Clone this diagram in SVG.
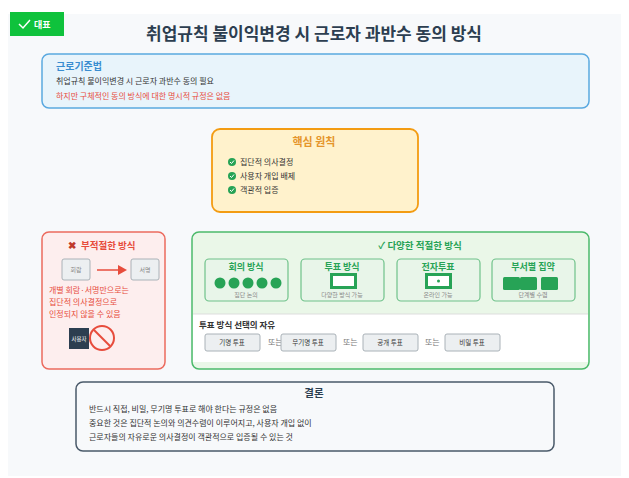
<svg xmlns="http://www.w3.org/2000/svg" width="629" height="478" viewBox="0 0 629 478">
<style>
text{font-family:"Noto Sans CJK KR","Noto Sans",sans-serif;}
.s{font-size:8px;fill:#333}
.t{font-size:6px;fill:#888}
.sb{fill:#e8f5e9;stroke:#6fc28a;stroke-width:1.2}
.btn{fill:#eceff1;stroke:#aab2b8;stroke-width:1}
.bt{font-size:6.5px;fill:#333;text-anchor:middle}
.or{font-size:8px;fill:#777}
.gh{font-size:9px;font-weight:bold;fill:#27a356;text-anchor:middle}
</style>
<rect width="629" height="478" fill="#fff"/>
<rect x="8" y="14" width="613" height="462" fill="#f7f9fb"/>
<g id="badge"><rect x="10" y="12" width="54" height="24" fill="#0fc23c"/><path d="M19 24 l4 4 l7 -8" fill="none" stroke="#fff" stroke-width="1.5"/><text x="34" y="28" font-size="9" fill="#fff" font-weight="bold">대표</text></g>
<text x="314" y="40" font-size="17" font-weight="bold" fill="#2c3e50" text-anchor="middle">취업규칙 불이익변경 시 근로자 과반수 동의 방식</text>
<g id="law"><rect x="42" y="54" width="547" height="54" rx="7" fill="#e8f4fb" stroke="#5aa9e0" stroke-width="1.5"/>
<text x="56" y="70" font-size="10" font-weight="bold" fill="#3a8dd0">근로기준법</text>
<text x="56" y="84" class="s">취업규칙 불이익변경 시 근로자 과반수 동의 필요</text>
<text x="56" y="99" font-size="8" fill="#e74c3c">하지만 구체적인 동의 방식에 대한 명시적 규정은 없음</text></g>
<g id="core"><rect x="212" y="129" width="206" height="83" rx="8" fill="#fff2cc" stroke="#f39c12" stroke-width="1.8"/>
<text x="314" y="146" font-size="11" font-weight="bold" fill="#e5952a" text-anchor="middle">핵심 원칙</text>
<g fill="#27a356"><circle cx="232" cy="162" r="4"/><circle cx="232" cy="176" r="4"/><circle cx="232" cy="190" r="4"/></g>
<g stroke="#fff" fill="none" stroke-width="1"><path d="M230 162l1.5 1.5 2.5-3"/><path d="M230 176l1.5 1.5 2.5-3"/><path d="M230 190l1.5 1.5 2.5-3"/></g>
<text x="240" y="165" class="s">집단적 의사결정</text><text x="240" y="179" class="s">사용자 개입 배제</text><text x="240" y="193" class="s">객관적 입증</text></g>
<g id="bad"><rect x="42" y="232" width="123" height="137" rx="7" fill="#fdeeee" stroke="#ec6b5e" stroke-width="1.5"/>
<text x="68" y="249" font-size="10" fill="#c0392b" font-weight="bold">✖</text>
<text x="81" y="249" font-size="9.5" font-weight="bold" fill="#e74c3c">부적절한 방식</text>
<rect x="62" y="259" width="28" height="21" rx="2" class="btn"/><text x="76" y="272" class="t" text-anchor="middle">회람</text>
<line x1="97" y1="270" x2="119" y2="270" stroke="#e74c3c" stroke-width="1.5"/><path d="M118 265l9 5-9 5z" fill="#e74c3c"/>
<rect x="131" y="259" width="28" height="21" rx="2" class="btn"/><text x="145" y="272" class="t" text-anchor="middle">서명</text>
<text x="49" y="293" font-size="8" fill="#e74c3c">개별 회람·서명만으로는</text>
<text x="49" y="305" font-size="8" fill="#e74c3c">집단적 의사결정으로</text>
<text x="49" y="317" font-size="8" fill="#e74c3c">인정되지 않을 수 있음</text>
<rect x="69" y="328" width="20" height="21" fill="#2c3e50"/><text x="79" y="341" font-size="5.5" fill="#fff" text-anchor="middle">사용자</text>
<circle cx="102" cy="338" r="12" fill="none" stroke="#e74c3c" stroke-width="2"/><line x1="94" y1="330" x2="110" y2="346" stroke="#e74c3c" stroke-width="2"/></g>
<g id="good"><rect x="192" y="232" width="397" height="137" rx="7" fill="#eaf7e8" stroke="#4cba6b" stroke-width="1.5"/>
<text x="420" y="249" font-size="9.5" font-weight="bold" fill="#27a356" text-anchor="middle">✓ 다양한 적절한 방식</text>
<rect x="205" y="259" width="83" height="42" rx="4" class="sb"/><text x="246" y="270" class="gh">회의 방식</text>
<g fill="#27a356"><circle cx="220" cy="283" r="5.5"/><circle cx="234" cy="283" r="5.5"/><circle cx="248" cy="283" r="5.5"/><circle cx="262" cy="283" r="5.5"/><circle cx="276" cy="283" r="5.5"/></g>
<text x="246" y="297" class="t" text-anchor="middle">집단 논의</text>
<rect x="301" y="259" width="83" height="42" rx="4" class="sb"/><text x="342" y="270" class="gh">투표 방식</text>
<rect x="331.5" y="274.5" width="24" height="13" fill="#fff" stroke="#27a356" stroke-width="3"/>
<text x="342" y="297" class="t" text-anchor="middle">다양한 방식 가능</text>
<rect x="397" y="259" width="83" height="42" rx="4" class="sb"/><text x="438" y="270" class="gh">전자투표</text>
<rect x="426.5" y="274.5" width="24" height="13" fill="#fff" stroke="#27a356" stroke-width="3"/><circle cx="438.5" cy="281" r="1.5" fill="#27a356"/>
<text x="438" y="297" class="t" text-anchor="middle">온라인 가능</text>
<rect x="492" y="259" width="83" height="42" rx="4" class="sb"/><text x="533" y="270" class="gh">부서별 집약</text>
<g fill="#27a356"><rect x="503" y="277" width="17" height="13" rx="1.5"/><rect x="520" y="277" width="17" height="13" rx="1.5"/><rect x="541" y="277" width="17" height="13" rx="1.5"/></g>
<text x="533" y="297" class="t" text-anchor="middle">단계별 수렴</text>
<rect x="193" y="314" width="395" height="48" fill="#fff"/>
<line x1="193" y1="314" x2="588" y2="314" stroke="#ddd"/>
<text x="199" y="328" font-size="8.5" font-weight="bold" fill="#333">투표 방식 선택의 자유</text>
<rect x="205" y="334" width="55" height="17" rx="2" class="btn"/><text x="232" y="345" class="bt">기명 투표</text>
<text x="268" y="345" class="or">또는</text>
<rect x="281" y="334" width="55" height="17" rx="2" class="btn"/><text x="308" y="345" class="bt">무기명 투표</text>
<text x="343" y="345" class="or">또는</text>
<rect x="363" y="334" width="55" height="17" rx="2" class="btn"/><text x="390" y="345" class="bt">공개 투표</text>
<text x="425" y="345" class="or">또는</text>
<rect x="445" y="334" width="55" height="17" rx="2" class="btn"/><text x="472" y="345" class="bt">비밀 투표</text></g>
<g id="conclusion"><rect x="76" y="382" width="478" height="69" rx="7" fill="#f7f9fb" stroke="#4a5a6a" stroke-width="1.5"/>
<text x="314" y="397" font-size="10.5" font-weight="bold" fill="#2c3e50" text-anchor="middle">결론</text>
<text x="89" y="412" class="s">반드시 직접, 비밀, 무기명 투표로 해야 한다는 규정은 없음</text>
<text x="89" y="426" class="s">중요한 것은 집단적 논의와 의견수렴이 이루어지고, 사용자 개입 없이</text>
<text x="89" y="440" class="s">근로자들의 자유로운 의사결정이 객관적으로 입증될 수 있는 것</text></g>
<g id="connectors"></g>
</svg>
